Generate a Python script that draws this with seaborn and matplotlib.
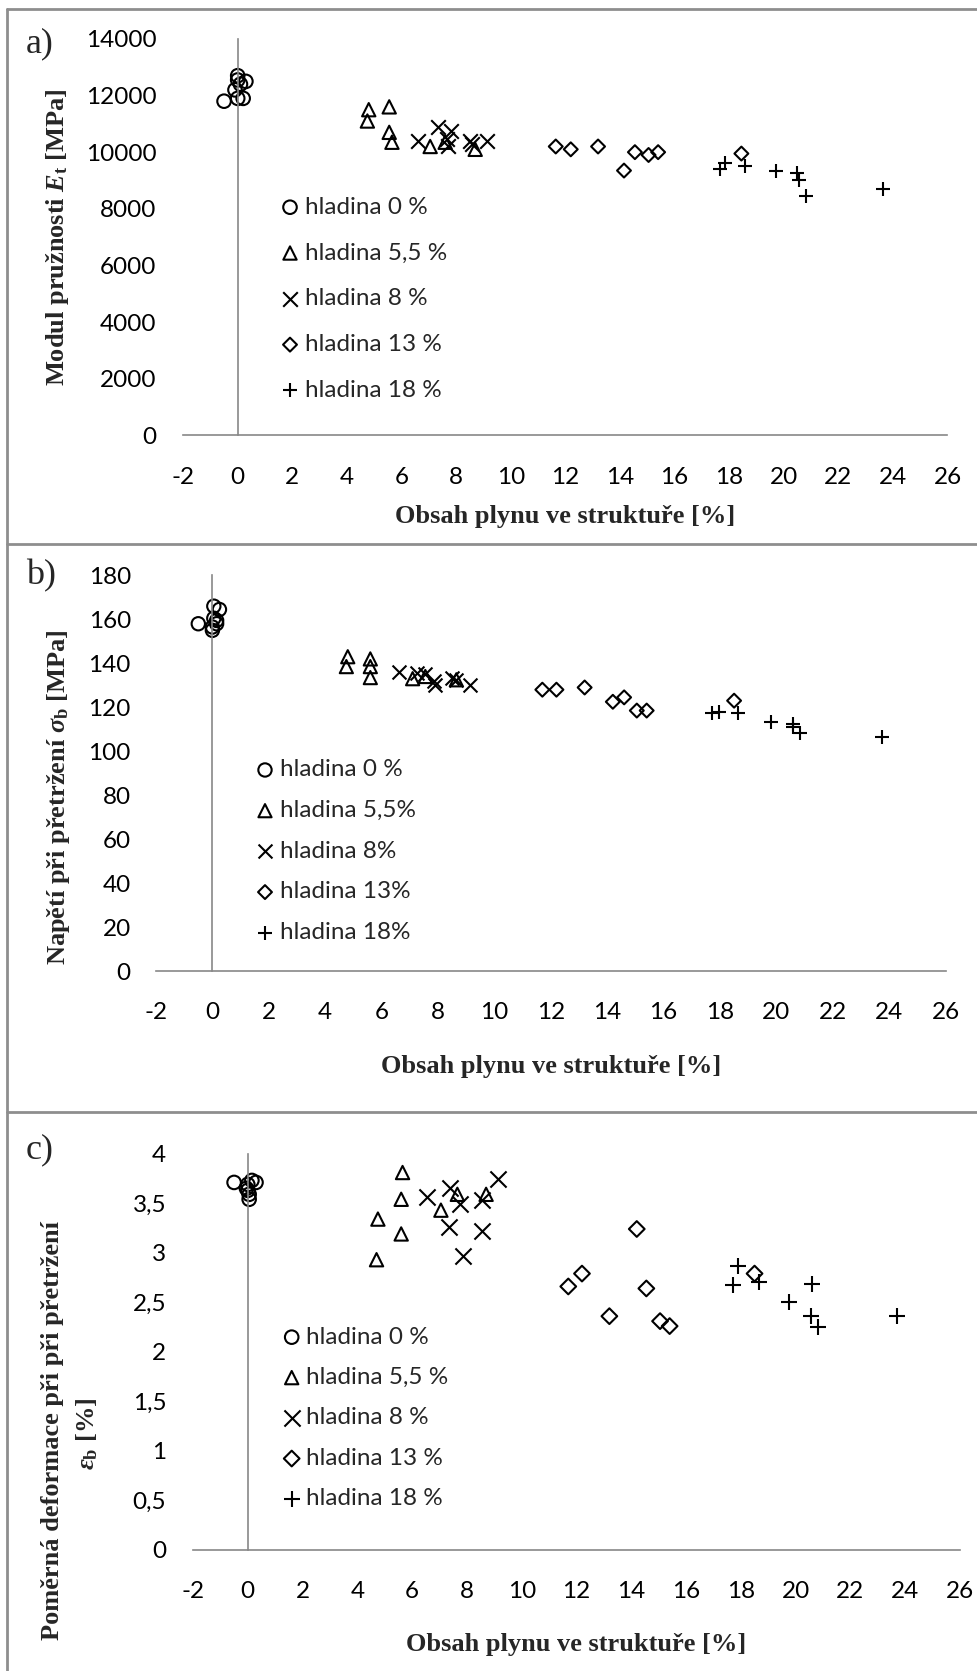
import matplotlib
matplotlib.use("Agg")
import matplotlib.pyplot as plt
import seaborn as sns
from matplotlib.lines import Line2D

# ---------------- data ----------------
labels_a = ["hladina 0 %", "hladina 5,5 %", "hladina 8 %", "hladina 13 %", "hladina 18 %"]
labels_b = ["hladina 0 %", "hladina 5,5%", "hladina 8%", "hladina 13%", "hladina 18%"]
labels_c = ["hladina 0 %", "hladina 5,5 %", "hladina 8 %", "hladina 13 %", "hladina 18 %"]

x_ticks = [-2, 0, 2, 4, 6, 8, 10, 12, 14, 16, 18, 20, 22, 24, 26]
x_ticklabels = ["-2", "0", "2", "4", "6", "8", "10", "12", "14", "16", "18", "20", "22", "24", "26"]

a_yticks = [0, 2000, 4000, 6000, 8000, 10000, 12000, 14000]
a_yticklabels = ["0", "2000", "4000", "6000", "8000", "10000", "12000", "14000"]
b_yticks = [0, 20, 40, 60, 80, 100, 120, 140, 160, 180]
b_yticklabels = ["0", "20", "40", "60", "80", "100", "120", "140", "160", "180"]
c_yticks = [0, 0.5, 1, 1.5, 2, 2.5, 3, 3.5, 4]
c_yticklabels = ["0", "0,5", "1", "1,5", "2", "2,5", "3", "3,5", "4"]

# panel a) - modulus of elasticity [MPa]
a_x_0 = [-0.5, 0.0, 0.2, -0.1, 0.0, 0.3, 0.0, 0.1]
a_y_0 = [11800, 11900, 11900, 12200, 12550, 12500, 12700, 12400]
a_x_55 = [4.8, 4.75, 5.55, 5.55, 5.65, 7.05, 7.6, 8.7]
a_y_55 = [11500, 11100, 11600, 10700, 10350, 10200, 10350, 10100]
a_x_8 = [6.6, 7.35, 7.8, 7.65, 7.7, 8.5, 8.6, 9.15]
a_y_8 = [10400, 10900, 10750, 10450, 10200, 10400, 10300, 10400]
a_x_13 = [11.65, 12.2, 13.2, 14.15, 14.55, 15.05, 15.4, 18.45]
a_y_13 = [10200, 10100, 10200, 9350, 10000, 9900, 10000, 9950]
a_x_18 = [17.65, 17.85, 18.6, 19.7, 20.5, 20.55, 20.8, 23.65]
a_y_18 = [9400, 9600, 9500, 9350, 9250, 9000, 8450, 8700]

# panel b) - stress at break [MPa]
b_x_0 = [-0.5, 0.05, 0.25, 0.05, 0.15, 0.0, 0.0, 0.15]
b_y_0 = [158, 166, 164.5, 160.5, 158, 156.5, 155, 159.5]
b_x_55 = [4.8, 4.75, 5.6, 5.6, 5.6, 7.1, 7.55, 8.65]
b_y_55 = [143, 138.5, 142, 138.5, 133.5, 133, 134, 132.5]
b_x_8 = [6.6, 7.25, 7.55, 7.85, 7.9, 8.5, 8.65, 9.15]
b_y_8 = [136, 135.5, 135, 132, 130, 133.5, 132.5, 130]
b_x_13 = [11.7, 12.2, 13.2, 14.2, 14.6, 15.05, 15.4, 18.5]
b_y_13 = [128, 128, 129, 122.5, 124.5, 118.5, 118.5, 123]
b_x_18 = [17.7, 17.95, 18.65, 19.8, 20.6, 20.6, 20.85, 23.75]
b_y_18 = [117.5, 118, 117.5, 113.5, 112.5, 111, 108.5, 106.5]

# panel c) - strain at break [%]
c_x_0 = [-0.5, 0.0, 0.3, 0.15, 0.0, 0.05, 0.05, -0.05]
c_y_0 = [3.71, 3.69, 3.71, 3.73, 3.63, 3.59, 3.54, 3.65]
c_x_55 = [4.75, 4.7, 5.65, 5.6, 5.6, 7.05, 7.65, 8.7]
c_y_55 = [3.34, 2.93, 3.81, 3.54, 3.19, 3.43, 3.59, 3.59]
c_x_8 = [6.55, 7.37, 7.33, 7.73, 7.85, 8.55, 8.55, 9.15]
c_y_8 = [3.56, 3.65, 3.26, 3.49, 2.97, 3.53, 3.22, 3.74]
c_x_13 = [11.7, 12.2, 13.2, 14.2, 14.55, 15.05, 15.4, 18.5]
c_y_13 = [2.66, 2.79, 2.36, 3.24, 2.64, 2.31, 2.26, 2.79]
c_x_18 = [17.7, 17.9, 18.65, 19.75, 20.6, 20.55, 20.8, 23.7]
c_y_18 = [2.67, 2.87, 2.70, 2.50, 2.68, 2.36, 2.25, 2.36]

# ---------------- style ----------------
sns.set_style("white")
plt.rcParams["font.family"] = ["Lato", "DejaVu Sans"]
plt.rcParams["mathtext.fontset"] = "custom"
plt.rcParams["mathtext.rm"] = "Liberation Serif:bold"
plt.rcParams["mathtext.bf"] = "Liberation Serif:bold"
plt.rcParams["mathtext.it"] = "Liberation Serif:italic:bold"

W, H = 978, 1671
DPI = 100
fig = plt.figure(figsize=(W / DPI, H / DPI), dpi=DPI)
fig.patch.set_facecolor("white")

AX_GRAY = "#878787"
BORDER_GRAY = "#8e8e8e"
TICK_FS = 17.5
LABEL_FS = 19
SERIF = ["Liberation Serif", "DejaVu Serif"]
MARKERS = ["o", "^", "x", "D", "+"]


def px_rect(left, right, top, bottom):
    return [left / W, 1 - bottom / H, (right - left) / W, (bottom - top) / H]


def draw_panel(rect, series, labels, sizes, ylim, yticks, yticklabels,
               xlabel_y, legend_x, legend_yc, labelspacing):
    ax = fig.add_axes(px_rect(*rect))
    left, right, top, bottom = rect
    for (xs, ys), lab, mk, s in zip(series, labels, MARKERS, sizes):
        if mk in ("x", "+"):
            sns.scatterplot(x=xs, y=ys, marker=mk, s=s, color="black",
                            linewidth=1.5, ax=ax, label=lab, clip_on=False)
        else:
            sns.scatterplot(x=xs, y=ys, marker=mk, s=s, color="black",
                            facecolor="none", edgecolor="black",
                            linewidth=1.5, ax=ax, label=lab, clip_on=False)
    ax.set_xlim(-2, 26)
    ax.set_ylim(*ylim)
    ax.set_xticks(x_ticks, labels=x_ticklabels)
    ax.set_yticks(yticks, labels=yticklabels)
    for side in ("top", "right"):
        ax.spines[side].set_visible(False)
    ax.spines["left"].set_position(("data", 0))
    for side in ("left", "bottom"):
        ax.spines[side].set_color(AX_GRAY)
        ax.spines[side].set_linewidth(1.2)
    ax.tick_params(axis="x", direction="out", length=6, width=1.2,
                   color=AX_GRAY, pad=16.5, labelsize=TICK_FS, labelcolor="black")
    ax.tick_params(axis="y", direction="out", length=6, width=1.2,
                   color=AX_GRAY, pad=52.7, labelsize=TICK_FS, labelcolor="black")
    ax.set_facecolor("none")
    ax.set_xlabel("Obsah plynu ve struktuře [%]", fontfamily=SERIF,
                  fontweight="bold", fontsize=LABEL_FS)
    ax.xaxis.label.set_va("center")
    ax.xaxis.set_label_coords(0.5, -(xlabel_y - bottom) / (bottom - top))
    ax.set_ylabel("")
    fs_px = TICK_FS * DPI / 72
    hl = 0.7
    ax.legend(loc="center left",
              bbox_to_anchor=((legend_x - hl * fs_px / 2) / W, 1 - legend_yc / H),
              bbox_transform=fig.transFigure, frameon=False,
              borderpad=0, borderaxespad=0, handlelength=hl,
              handletextpad=0.25, labelspacing=labelspacing,
              scatterpoints=1, fontsize=TICK_FS)
    return ax


# panel a
draw_panel((183.1, 947.5, 38.9, 435.3),
           [(a_x_0, a_y_0), (a_x_55, a_y_55), (a_x_8, a_y_8), (a_x_13, a_y_13), (a_x_18, a_y_18)],
           labels_a, [95, 92, 110, 50, 95], (0, 14000), a_yticks, a_yticklabels,
           516.7, 290, (206.6 + 390.8) / 2, 1.02)
# panel b
draw_panel((156, 945.6, 575.4, 971),
           [(b_x_0, b_y_0), (b_x_55, b_y_55), (b_x_8, b_y_8), (b_x_13, b_y_13), (b_x_18, b_y_18)],
           labels_b, [92, 90, 100, 50, 95], (0, 180), b_yticks, b_yticklabels,
           1066.4, 265, (770 + 932.5) / 2, 0.81)
# panel c
draw_panel((193, 960, 1153.7, 1550),
           [(c_x_0, c_y_0), (c_x_55, c_y_55), (c_x_8, c_y_8), (c_x_13, c_y_13), (c_x_18, c_y_18)],
           labels_c, [95, 92, 135, 64, 135], (0, 4), c_yticks, c_yticklabels,
           1645, 291.7, (1337.6 + 1498.3) / 2, 0.80)

# y-axis labels
fig.text(58 / W, 1 - 237.6 / H, r"Modul pružnosti $\mathit{E}_{\mathrm{t}}$ [MPa]",
         rotation=90, ha="center", va="center", fontfamily=SERIF,
         fontweight="bold", fontsize=LABEL_FS)
fig.text(59 / W, 1 - 797.6 / H, r"Napětí při přetržení $\sigma_{\mathrm{b}}$ [MPa]",
         rotation=90, ha="center", va="center", fontfamily=SERIF,
         fontweight="bold", fontsize=LABEL_FS)
fig.text(53 / W, 1 - 1431 / H, "Poměrná deformace při při přetržení",
         rotation=90, ha="center", va="center", fontfamily=SERIF,
         fontweight="bold", fontsize=LABEL_FS)
fig.text(87 / W, 1 - 1434 / H, r"$\varepsilon_{\mathrm{b}}$ [%]",
         rotation=90, ha="center", va="center", fontfamily=SERIF,
         fontweight="bold", fontsize=LABEL_FS)

# panel letters
for letter, yc in (("a)", 44), ("b)", 576), ("c)", 1150)):
    fig.text(26 / W, 1 - yc / H, letter, ha="left", va="center",
             fontfamily=SERIF, fontsize=26)

# panel frames
for y in (9, 544, 1112):
    fig.add_artist(Line2D([7 / W, 1], [1 - y / H, 1 - y / H], transform=fig.transFigure,
                          color=BORDER_GRAY, linewidth=2))
fig.add_artist(Line2D([7 / W, 7 / W], [1 - 9 / H, 0], transform=fig.transFigure,
                      color=BORDER_GRAY, linewidth=2))

fig.savefig("out.png", dpi=DPI)
